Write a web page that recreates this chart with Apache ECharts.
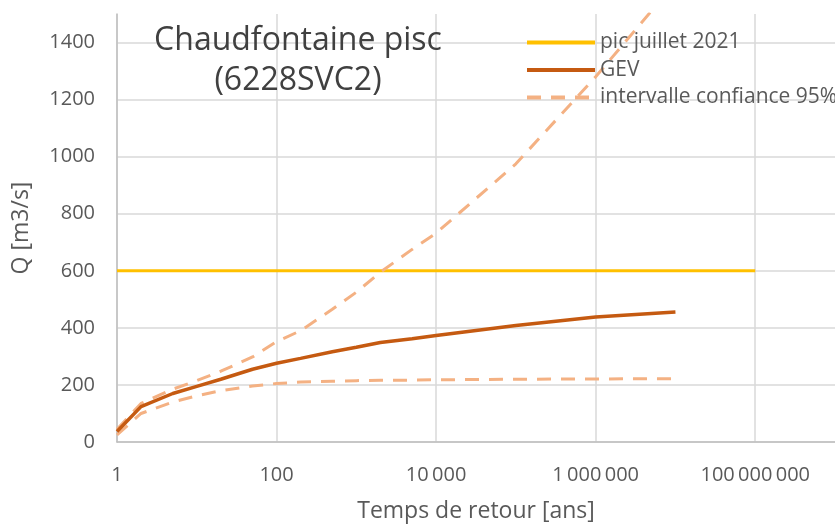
<!DOCTYPE html>
<html>
<head>
<meta charset="utf-8">
<script src="https://cdn.jsdelivr.net/npm/echarts@6/dist/echarts.min.js"></script>
<style>
  html, body { margin: 0; padding: 0; background: #fff; }
  #chart { width: 835px; height: 525px; }
</style>
</head>
<body>
<div id="chart"></div>
<script>
// temps de retour [ans]
const returnPeriods = [1, 2, 5, 10, 20, 50, 100, 200, 500, 1000, 2000, 5000, 10000, 100000, 1000000, 10000000];
// débits Q [m3/s]
const gevValues   = [37, 124, 170, 195, 220, 255, 276, 293, 316, 332, 349, 362, 373, 408, 438, 456];
const lowerValues = [25, 100, 140, 162, 180, 196, 205, 210, 213, 215, 216, 217, 218, 220, 221, 222];
const upperValues = [45, 135, 185, 215, 248, 298, 352, 390, 465, 525, 595, 675, 732, 975, 1280, 1610];
// pic juillet 2021
const peakPeriods = [1, 100000000];
const peakValues = [600, 600];
const yTicks = [0, 200, 400, 600, 800, 1000, 1200, 1400];

const FONT = 'Open Sans';
const GREY = '#595959';

function pairs(xs, ys) {
    return xs.map((x, i) => [x, ys[i]]);
}

function fmtThousands(v) {
    return String(Math.round(v)).replace(/\B(?=(\d{3})+(?!\d))/g, '\u2009');
}

const chart = echarts.init(document.getElementById('chart'));

const option = {
    animation: false,
    backgroundColor: '#fff',
    textStyle: { fontFamily: FONT },
    title: {
        text: 'Chaudfontaine pisc\n(6228SVC2)',
        left: 293,
        top: 16,
        textAlign: 'center',
        textStyle: {
            fontFamily: FONT,
            fontWeight: 'normal',
            fontSize: 32,
            lineHeight: 40,
            color: '#404040'
        }
    },
    legend: {
        orient: 'vertical',
        left: 520,
        top: 27,
        itemWidth: 68,
        itemHeight: 12,
        itemGap: 6.5,
        itemStyle: { opacity: 0 },
        lineStyle: { width: 4 },
        textStyle: { fontFamily: FONT, fontSize: 21, color: GREY },
        data: ['pic juillet 2021', 'GEV', 'intervalle confiance 95%']
    },
    grid: { left: 117, right: 0, top: 14, bottom: 83, outerBoundsMode: 'none' },
    xAxis: {
        type: 'log',
        logBase: 100,
        min: 1,
        max: 1000000000,
        name: 'Temps de retour [ans]',
        nameLocation: 'middle',
        nameGap: 58,
        nameTextStyle: { fontFamily: FONT, fontSize: 23, color: GREY },
        axisLine: { show: true, lineStyle: { color: '#bfbfbf', width: 1.5 } },
        axisTick: { show: false },
        axisLabel: {
            fontFamily: FONT, fontSize: 20, color: GREY, margin: 23,
            showMaxLabel: false,
            formatter: fmtThousands
        },
        splitLine: { show: true, showMaxLine: false, lineStyle: { color: '#d9d9d9', width: 1.5 } }
    },
    yAxis: {
        type: 'value',
        min: 0,
        max: 1500,
        interval: 200,
        name: 'Q [m3/s]',
        nameLocation: 'middle',
        nameGap: 84,
        nameTextStyle: { fontFamily: FONT, fontSize: 23, color: GREY },
        axisLine: { show: true, lineStyle: { color: '#bfbfbf', width: 1.5 } },
        axisTick: { show: false },
        axisLabel: {
            fontFamily: FONT, fontSize: 20, color: GREY, margin: 22,
            showMaxLabel: false,
            formatter: v => (yTicks.indexOf(v) >= 0 ? String(v) : '')
        },
        splitLine: { show: true, showMaxLine: false, lineStyle: { color: '#d9d9d9', width: 1.5 } }
    },
    series: [
        {
            name: 'pic juillet 2021',
            type: 'line',
            symbol: 'none',
            lineStyle: { color: '#ffc000', width: 3 },
            itemStyle: { color: '#ffc000' },
            data: pairs(peakPeriods, peakValues)
        },
        {
            name: 'GEV',
            type: 'line',
            symbol: 'none',
            z: 4,
            lineStyle: { color: '#c55a11', width: 3.5 },
            itemStyle: { color: '#c55a11' },
            data: pairs(returnPeriods, gevValues)
        },
        {
            name: 'intervalle confiance 95%',
            type: 'line',
            symbol: 'none',
            lineStyle: { color: '#f4b183', width: 3, type: [14, 10] },
            itemStyle: { color: '#f4b183' },
            data: pairs(returnPeriods, upperValues)
        },
        {
            name: 'intervalle confiance 95%',
            type: 'line',
            symbol: 'none',
            lineStyle: { color: '#f4b183', width: 3, type: [14, 10] },
            itemStyle: { color: '#f4b183' },
            data: pairs(returnPeriods, lowerValues)
        }
    ]
};

chart.setOption(option);
window.addEventListener('resize', () => chart.resize());
</script>
</body>
</html>
